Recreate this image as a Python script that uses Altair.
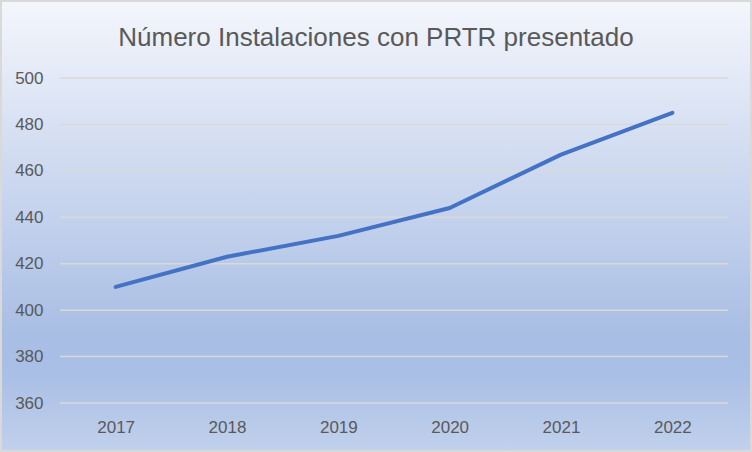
import altair as alt
import pandas as pd

title_text = "Número Instalaciones con PRTR presentado"
years = ["2017", "2018", "2019", "2020", "2021", "2022"]
values = [410, 423, 432, 444, 467, 485]
y_ticks = [360, 380, 400, 420, 440, 460, 480, 500]

df = pd.DataFrame({"year": years, "value": values})
grid_df = pd.DataFrame({"tick": y_ticks})

W, H = 668, 325
PAD = {"left": 60, "top": 78, "right": 24, "bottom": 49}

gradient = alt.LinearGradient(
    gradient="linear",
    x1=0, y1=0, x2=0, y2=1,
    stops=[
        alt.GradientStop(color="#f4f6fc", offset=0),
        alt.GradientStop(color="#a9bee4", offset=0.74),
        alt.GradientStop(color="#aabfe5", offset=0.83),
        alt.GradientStop(color="#c1d1ec", offset=1),
    ],
)

yscale = alt.Scale(domain=[360, 500], nice=False, zero=False)
label_style = dict(labelFont="Liberation Sans", labelFontSize=17, labelColor="#595959")

bg = alt.Chart(pd.DataFrame({"a": [0]})).mark_rect(
    fill=gradient, stroke="#d9d9d9", strokeWidth=2
).encode(
    x=alt.value(-PAD["left"] + 1),
    x2=alt.value(W + PAD["right"] - 1),
    y=alt.value(-PAD["top"] + 1),
    y2=alt.value(H + PAD["bottom"] - 1),
)

title = alt.Chart(pd.DataFrame({"t": [title_text]})).mark_text(
    font="Liberation Sans", fontSize=26, color="#595959",
    align="center", baseline="middle",
).encode(
    text="t:N",
    x=alt.value(376 - PAD["left"]),
    y=alt.value(38 - PAD["top"]),
)

grid = alt.Chart(grid_df).mark_rule(color="#d9d9d9", strokeWidth=1.5).encode(
    y=alt.Y(
        "tick:Q",
        scale=yscale,
        axis=alt.Axis(
            title=None, values=y_ticks, domain=False, ticks=False,
            labelPadding=17, grid=False, zindex=1, **label_style,
        ),
    ),
)

line = alt.Chart(df).mark_line(
    color="#4472c4", strokeWidth=4, strokeCap="round", strokeJoin="round"
).encode(
    x=alt.X(
        "year:N",
        sort=years,
        scale=alt.Scale(paddingInner=0, paddingOuter=0),
        axis=alt.Axis(
            title=None, labelAngle=0, domain=False, ticks=False,
            labelPadding=16, grid=False, zindex=1, **label_style,
        ),
    ),
    y=alt.Y("value:Q", scale=yscale),
)

chart = alt.layer(bg, title, grid, line).properties(
    width=W,
    height=H,
    padding=PAD,
    autosize=alt.AutoSizeParams(type="none"),
).configure_view(stroke=None).configure(background="#ffffff")

chart.save("out.html", embed_options={"renderer": "svg", "actions": False})
